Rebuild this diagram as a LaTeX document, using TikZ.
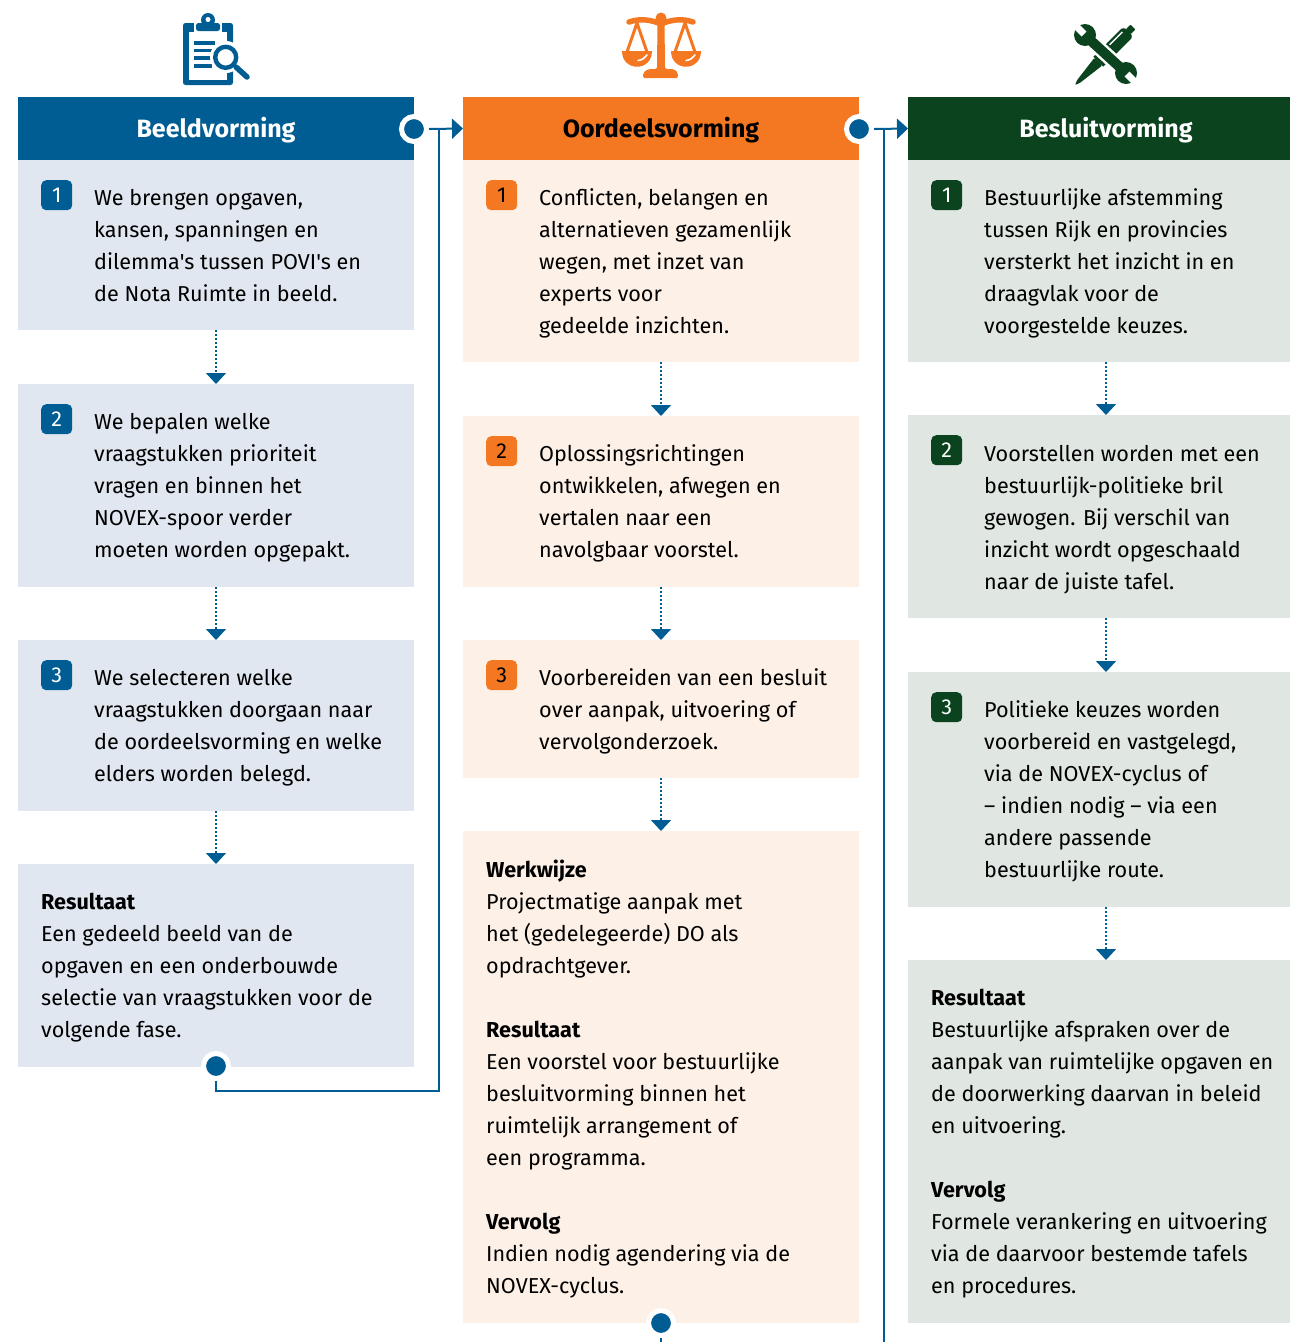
\documentclass[tikz,border=0pt]{standalone}
\usepackage{fontspec}
\setmainfont{Fira Sans}[Ligatures=TeXOff]
\usetikzlibrary{arrows.meta}
\definecolor{bluedark}{HTML}{005D94}
\definecolor{orangedark}{HTML}{F47721}
\definecolor{greendark}{HTML}{0A431D}
\definecolor{bluelight}{HTML}{E1E7F0}
\definecolor{orangelight}{HTML}{FDF0E7}
\definecolor{greenlight}{HTML}{E0E6E2}
\newcommand{\bodyfont}{\fontsize{21.6}{32}\selectfont}
\newcommand{\headfont}{\fontsize{25}{32}\selectfont\bfseries}
\newcommand{\textdrop}{28.6}
\tikzset{
  cardbox/.style={anchor=north west,inner sep=0pt,outer sep=0pt,minimum width=#1,fill=bgcol},
  badgebox/.style={anchor=north west,inner sep=0pt,minimum width=31pt,minimum height=30pt,rounded corners=5pt,fill=maincol,text=badgetext,font=\bodyfont},
  bodytext/.style={anchor=north west,inner sep=0pt,align=left,font=\bodyfont,text=black,execute at begin node=\strut},
  headbox/.style={anchor=north west,inner sep=0pt,outer sep=0pt,minimum height=63pt,fill=maincol},
  headlabel/.style={inner sep=0pt,font=\headfont,yshift=-2pt},
  dotted flow/.style={draw=bluedark,line width=1.6pt,dash pattern=on 2pt off 2pt,-{Triangle[length=11pt,width=20pt,fill=bluedark]}},
  flowline/.style={draw=bluedark,line width=2pt},
  flowarrow/.style={flowline,-{Triangle[length=11pt,width=20pt]}},
  linkdot/.style={circle,draw=white,line width=5pt,fill=bluedark,minimum size=25pt,inner sep=0pt},
}
\colorlet{bgcol}{bluelight}\colorlet{maincol}{bluedark}\colorlet{badgetext}{white}
% name, x, top, bottom, width, badge number, text
\newcommand{\stepcard}[7]{%
  \pgfmathsetmacro{\cardh}{#4-#3}
  \node[cardbox=#5 pt,minimum height=\cardh pt] (#1) at (#2,#3) {};
  \node[badgebox] (#1n) at ([xshift=23pt,yshift=-20pt]#1.north west) {#6};
  \node[bodytext] (#1t) at ([xshift=76pt,yshift=-\textdrop pt]#1.north west) {#7};
}
\newcommand{\notecard}[6]{%
  \pgfmathsetmacro{\cardh}{#4-#3}
  \node[cardbox=#5 pt,minimum height=\cardh pt] (#1) at (#2,#3) {};
  \node[bodytext] (#1t) at ([xshift=23pt,yshift=-\textdrop pt]#1.north west) {#6};
}
\begin{document}
\begin{tikzpicture}[x=1pt,y=-1pt]
\useasboundingbox (0,0) rectangle (1290,1342);
% ---------- column 1
\colorlet{bgcol}{bluelight}\colorlet{maincol}{bluedark}\colorlet{badgetext}{white}
\node[headbox,minimum width=396pt] (h1) at (18,97) {};
\node[headlabel,text=white] (h1t) at (h1.center) {Beeldvorming};
\stepcard{a1}{18}{160}{330}{396}{1}{We brengen opgaven,\\kansen, spanningen en\\dilemma's tussen POVI's en\\de Nota Ruimte in beeld.}
\stepcard{a2}{18}{384}{587}{396}{2}{We bepalen welke\\vraagstukken prioriteit\\vragen en binnen het\\NOVEX-spoor verder\\moeten worden opgepakt.}
\stepcard{a3}{18}{640}{811}{396}{3}{We selecteren welke\\vraagstukken doorgaan naar\\de oordeelsvorming en welke\\elders worden belegd.}
\notecard{a4}{18}{864}{1067}{396}{\textbf{Resultaat}\\Een gedeeld beeld van de\\opgaven en een onderbouwde\\selectie van vraagstukken voor de\\volgende fase.}
% ---------- column 2
\colorlet{bgcol}{orangelight}\colorlet{maincol}{orangedark}\colorlet{badgetext}{black}
\node[headbox,minimum width=396pt] (h2) at (463,97) {};
\node[headlabel,text=black] (h2t) at (h2.center) {Oordeelsvorming};
\stepcard{b1}{463}{160}{362}{396}{1}{Conflicten, belangen en\\alternatieven gezamenlijk\\wegen, met inzet van\\experts voor\\gedeelde inzichten.}
\stepcard{b2}{463}{416}{587}{396}{2}{Oplossingsrichtingen\\ontwikkelen, afwegen en\\vertalen naar een\\navolgbaar voorstel.}
\stepcard{b3}{463}{640}{778}{396}{3}{Voorbereiden van een besluit\\over aanpak, uitvoering of\\vervolgonderzoek.}
\notecard{b4}{463}{831}{1323}{396}{\textbf{Werkwijze}\\Projectmatige aanpak met\\het (gedelegeerde) DO als\\opdrachtgever.\\[32pt]\textbf{Resultaat}\\Een voorstel voor bestuurlijke\\besluitvorming binnen het\\ruimtelijk arrangement of\\een programma.\\[32pt]\textbf{Vervolg}\\Indien nodig agendering via de\\NOVEX-cyclus.}
% ---------- column 3
\colorlet{bgcol}{greenlight}\colorlet{maincol}{greendark}\colorlet{badgetext}{white}
\node[headbox,minimum width=382pt] (h3) at (908,97) {};
\node[headlabel,text=white,xshift=7pt] (h3t) at (h3.center) {Besluitvorming};
\stepcard{c1}{908}{160}{362}{382}{1}{Bestuurlijke afstemming\\tussen Rijk en provincies\\versterkt het inzicht in en\\draagvlak voor de\\voorgestelde keuzes.}
\renewcommand{\textdrop}{29.6}
\stepcard{c2}{908}{415}{618}{382}{2}{Voorstellen worden met een\\bestuurlijk-politieke bril\\gewogen. Bij verschil van\\inzicht wordt opgeschaald\\naar de juiste tafel.}
\renewcommand{\textdrop}{28.6}
\stepcard{c3}{908}{672}{907}{382}{3}{Politieke keuzes worden\\voorbereid en vastgelegd,\\via de NOVEX-cyclus of\\– indien nodig – via een\\andere passende\\bestuurlijke route.}
\notecard{c4}{908}{960}{1323}{382}{\textbf{Resultaat}\\Bestuurlijke afspraken over de\\aanpak van ruimtelijke opgaven en\\de doorwerking daarvan in beleid\\en uitvoering.\\[32pt]\textbf{Vervolg}\\Formele verankering en uitvoering\\via de daarvoor bestemde tafels\\en procedures.}
% ---------- dotted arrows
\foreach \p/\q in {a1/a2,a2/a3,a3/a4,b1/b2,b2/b3,b3/b4}{
  \draw[dotted flow] (\p.south) -- (\q.north);
}
\foreach \p/\q in {c1/c2,c2/c3,c3/c4}{
  \draw[dotted flow] ([xshift=7pt]\p.south) -- ([xshift=7pt]\q.north);
}
% ---------- link dots and connectors
\node[linkdot] (d1) at (414,129) {};
\node[linkdot] (d2) at (859,129) {};
\node[linkdot] (d3) at (216,1066) {};
\node[linkdot] (d4) at (661,1323) {};
\coordinate (j1) at (438.5,129);
\coordinate (j2) at (883.5,129);
\coordinate (t1) at (438.5,1090.5);
\coordinate (e1) at (661,1342);
\coordinate (e2) at (883.5,1342);
\draw[flowarrow] (d1.east) -- (h2.west);
\draw[flowarrow] (d2.east) -- (h3.west);
\draw[flowline] (d3.south) |- (t1) -- (j1);
\draw[flowline] (d4.south) -- (e1);
\draw[flowline] (j2) -- (e2);
% ---------- icon: clipboard with magnifier
\fill[bluedark,rounded corners=2.5pt] (183,23) rectangle (233,85);
\fill[white] (188.5,32) rectangle (227,80);
\fill[white] (194,20) rectangle (222,32);
\fill[bluedark] (208,20) circle (7);
\fill[bluedark,rounded corners=2.5pt] (196,23) rectangle (220,31);
\fill[white] (208,19.5) circle (2.5);
\foreach \yy/\xe in {43/215,50.5/214,58/211,66/212}{\fill[bluedark] (194,\yy-1.7) rectangle (\xe,\yy+1.7);}
\fill[white] (226,57) circle (16);
\draw[white,line width=10pt,line cap=round] (235,66) -- (247,77);
\draw[bluedark,line width=4.4pt] (225.7,57.3) circle (10.5);
\draw[bluedark,line width=5.5pt,line cap=round] (236,67) -- (247,77);
% ---------- icon: scales
\fill[orangedark,rounded corners=2pt] (643,78) -- (643,73) -- (648,69) -- (657,69) -- (657.5,20) -- (664.5,20) -- (665,69) -- (674,69) -- (678,73) -- (678,78) -- cycle;
\fill[orangedark] (661,18) circle (5.5);
\draw[orangedark,line width=5.5pt,line cap=round] (629,22) .. controls (640,18) and (652,20) .. (661,24) .. controls (670,20) and (682,18) .. (693,22);
\draw[orangedark,line width=3pt,line join=round] (627,52) -- (637,23) -- (647,52);
\draw[orangedark,line width=3pt,line join=round] (675,52) -- (685,23) -- (695,52);
\fill[orangedark] (622,51) .. controls (622,72) and (652,72) .. (652,51) -- cycle;
\fill[orangedark] (671,51) .. controls (671,72) and (701,72) .. (701,51) -- cycle;
\draw[white,line width=1.6pt,line cap=round] (638,60.5) .. controls (642,60) and (645,58) .. (647,55);
\draw[white,line width=1.6pt,line cap=round] (686,60.5) .. controls (690,60) and (693,58) .. (695,55);
% ---------- icon: tools
\begin{scope}[shift={(1104,56)},rotate=45]
  \fill[greendark,rounded corners=1pt] (-41,0) -- (-36,-2) -- (-8,-5.5) -- (-8,5.5) -- (-36,2) -- cycle;
  \fill[greendark,rounded corners=1.5pt] (10,-7) -- (33,-7) -- (35,-3) -- (35,3) -- (33,7) -- (10,7) -- cycle;
  \fill[greendark] (-8,-7) rectangle (12,7);
  \fill[greendark,rounded corners=1pt] (34,-3.5) rectangle (41,3.5);
  \draw[white,line width=1.5pt] (12,-4) -- (30,-4);
\end{scope}
\draw[white,line width=15pt] (1088,38) -- (1124,71);
\fill[white] (1085,35) circle (13);
\fill[white] (1126,73) circle (13);
\draw[greendark,line width=10pt] (1088,38) -- (1124,71);
\fill[greendark] (1085,35) circle (11);
\fill[greendark] (1126,73) circle (11);
\draw[white,line width=7pt] (1084,34) -- (1072,22);
\draw[white,line width=7pt] (1127,74) -- (1140,87);
\end{tikzpicture}
\end{document}
